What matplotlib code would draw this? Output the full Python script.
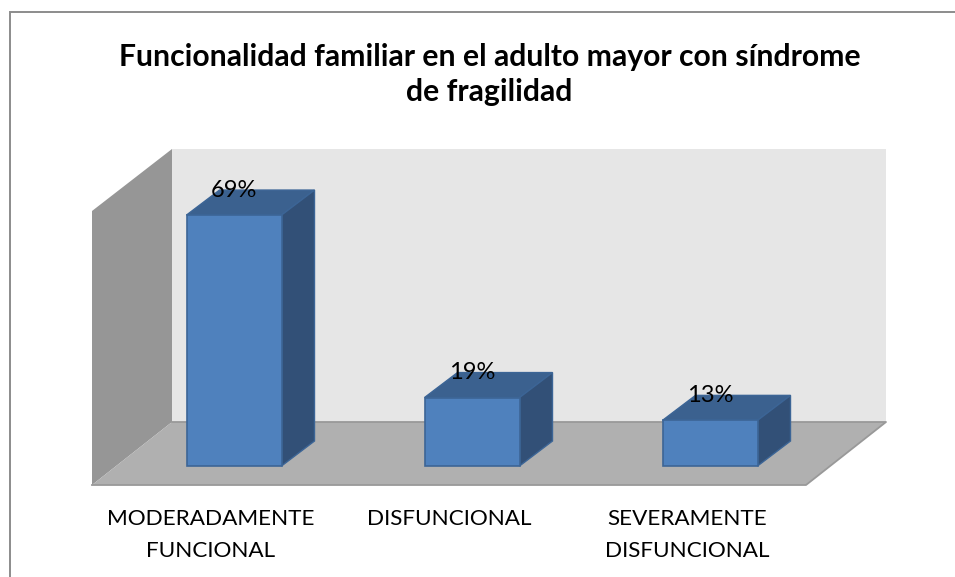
import matplotlib
matplotlib.use('Agg')
import matplotlib.pyplot as plt
import matplotlib.transforms as mtrans
from matplotlib.patches import Polygon

W, H = 955, 577
DPI = 100

# Data
categories = ['MODERADAMENTE\nFUNCIONAL', 'DISFUNCIONAL', 'SEVERAMENTE\nDISFUNCIONAL']
values = [68.75, 18.75, 12.5]
value_labels = ['69%', '19%', '13%']
title = 'Funcionalidad familiar en el adulto mayor con síndrome\nde fragilidad'

plt.rcParams['font.family'] = ['Lato', 'DejaVu Sans']

fig = plt.figure(figsize=(W / DPI, H / DPI), dpi=DPI, facecolor='white')

# background layer in pixel coords for the frame and the box walls
bg = fig.add_axes([0, 0, 1, 1])
bg.set_xlim(0, W)
bg.set_ylim(H, 0)
bg.axis('off')
bg.plot([9.5, 9.5, W], [H, 11.5, 11.5], color='#8c8c8c', lw=1.4, solid_joinstyle='miter')
bg.add_patch(Polygon([(172, 149), (886, 149), (886, 422), (172, 422)], fc='#e6e6e6', ec='none'))
bg.add_patch(Polygon([(92, 211), (172, 149), (172, 422), (92, 485)], fc='#969696', ec='none'))
bg.add_patch(Polygon([(92, 485), (172, 422), (886, 422), (806, 485)], fc='#b0b0b0', ec='none'))
bg.plot([172, 886, 806, 92], [422, 422, 485, 485], color='#999999', lw=1.3)

bg.text(489.5, 74.5, title, ha='center', va='center', fontsize=21.7, fontweight='bold',
        color='black', linespacing=1.34)

# chart axes: front edge of the floor, value 0 on that edge
px_per_unit = 3.65
left, right, base = 92, 806, 485
top = 100
ax = fig.add_axes([left / W, (H - base) / H, (right - left) / W, (base - top) / H])
ax.patch.set_alpha(0)
ax.set_xlim(-0.5, 2.5)
ax.set_ylim(0, (base - top) / px_per_unit)
ax.set_yticks([])
for s in ax.spines.values():
    s.set_visible(False)
ax.set_xticks(range(len(categories)))
ax.set_xticklabels(categories, fontsize=16.2, color='black', linespacing=1.74)
ax.tick_params(axis='x', length=0, pad=17.3)

# bars stand back from the front edge of the floor
shift = mtrans.ScaledTranslation(23 / DPI, 19 / DPI, fig.dpi_scale_trans)
trans = ax.transData + shift

bar_w = 95 / (right - left) * 3
depth_x = 33 / (right - left) * 3
depth_y = 25 / px_per_unit

for i, v in enumerate(values):
    x0 = i - bar_w / 2
    x1 = i + bar_w / 2
    ax.bar(i, v, width=bar_w, color='#4f81bd', edgecolor='#3c6596', lw=1.2, transform=trans, clip_on=False, zorder=3)
    ax.fill([x0, x1, x1 + depth_x, x0 + depth_x], [v, v, v + depth_y, v + depth_y],
            fc='#3b618f', ec='#3c6596', lw=1, transform=trans, clip_on=False, zorder=2)
    ax.fill([x1, x1 + depth_x, x1 + depth_x, x1], [0, depth_y, v + depth_y, v],
            fc='#325077', ec='#3c6596', lw=1, transform=trans, clip_on=False, zorder=2)
    ax.text(i, v + depth_y, value_labels[i], ha='center', va='center', fontsize=17,
            color='black', transform=trans, zorder=4)

fig.savefig('out.png', dpi=DPI)
